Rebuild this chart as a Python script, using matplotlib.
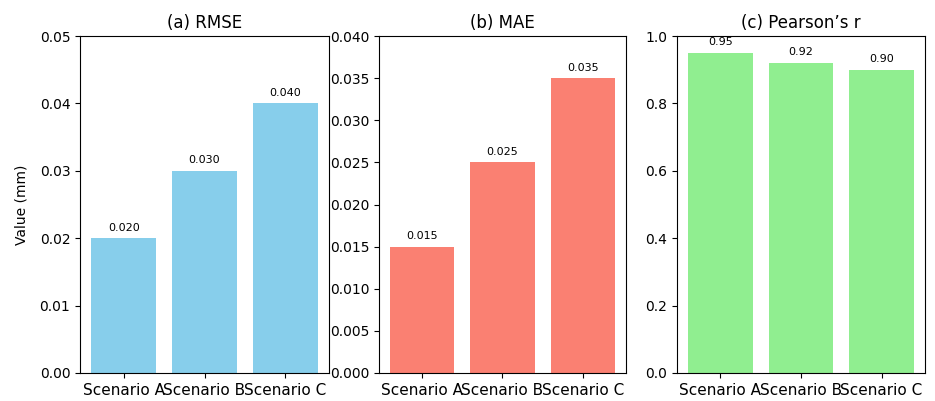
import matplotlib
matplotlib.use('Agg')
import matplotlib.pyplot as plt

# scenarios and metric values
scenarios = ['Scenario A', 'Scenario B', 'Scenario C']
rmse = [0.020, 0.030, 0.040]
mae = [0.015, 0.025, 0.035]
pearson_r = [0.95, 0.92, 0.90]

titles = ['(a) RMSE', '(b) MAE', '(c) Pearson\u2019s r']
colors = ['skyblue', 'salmon', 'lightgreen']
ylims = [0.05, 0.04, 1.0]
fmts = ['{:.3f}', '{:.3f}', '{:.2f}']

fig = plt.figure(figsize=(9.35, 4.01), dpi=100)
# axes boxes in pixels (left, right), shared top/bottom
xs = [(80, 329), (379, 626), (677, 925)]
top, bottom = 36, 373
W, H = 935.0, 401.0

for k, vals in enumerate([rmse, mae, pearson_r]):
    l, r = xs[k]
    ax = fig.add_axes([l / W, (H - bottom) / H, (r - l) / W, (bottom - top) / H])
    bars = ax.bar(scenarios, vals, color=colors[k])
    ax.set_ylim(0, ylims[k])
    ax.set_title(titles[k], fontsize=12)
    ax.tick_params(axis='x', labelsize=11)
    for b, v in zip(bars, vals):
        ax.annotate(fmts[k].format(v), (b.get_x() + b.get_width() / 2, v),
                    xytext=(0, 4), textcoords='offset points',
                    ha='center', va='bottom', fontsize=8)
    if k == 0:
        ax.set_ylabel('Value (mm)', labelpad=8)

fig.savefig('out.png', dpi=100)
